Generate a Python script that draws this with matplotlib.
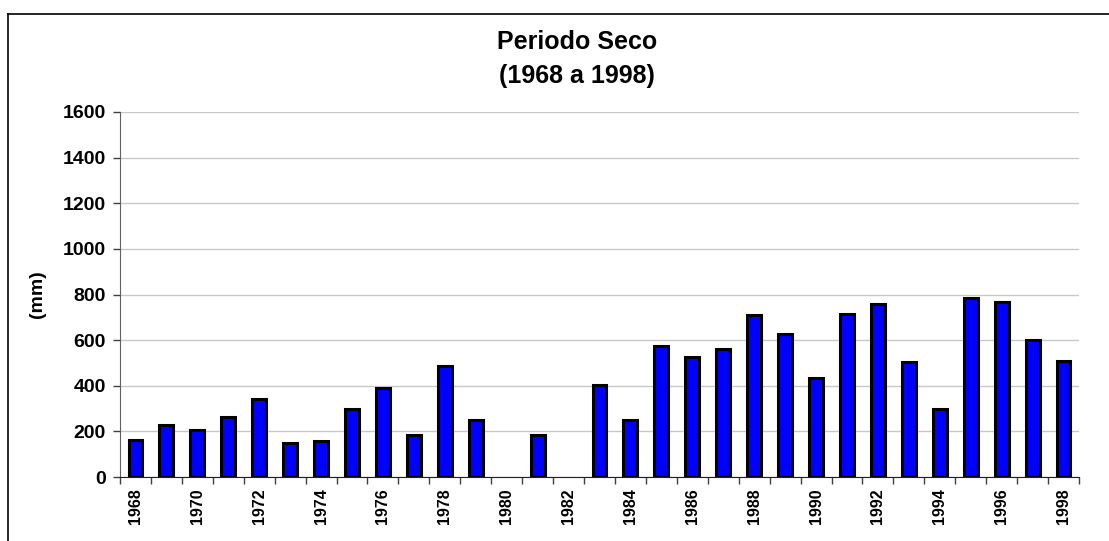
import numpy as np
import matplotlib
matplotlib.use("Agg")
import matplotlib.pyplot as plt
from matplotlib.lines import Line2D

plt.rcParams['font.family'] = ['Liberation Sans', 'DejaVu Sans']
plt.rcParams['font.weight'] = 'bold'

years = list(range(1968, 1999))
values = [164, 227, 205, 263, 342, 149, 156, 300, 389, 186, 488, 248, 0, 186, 0, 403,
          248, 574, 525, 561, 710, 625, 433, 716, 758, 504, 300, 786, 766, 602, 510]
yticks = [0, 200, 400, 600, 800, 1000, 1200, 1400, 1600]

fig = plt.figure(figsize=(11.09, 5.41), dpi=100)
ax = fig.add_axes([120 / 1109, 1 - 477 / 541, (1079 - 120) / 1109, (477 - 112) / 541])

x = np.arange(len(years))
vals = np.array(values, dtype=float)
vals[vals == 0] = np.nan  # years without data: no bar drawn
ax.bar(x, vals, width=0.45, color='#0000ff', edgecolor='black', linewidth=2.2, zorder=3)

ax.set_xlim(-0.5, len(years) - 0.5)
ax.set_ylim(0, 1600)
ax.set_yticks(yticks)
ax.set_yticklabels([str(v) for v in yticks], fontsize=14, fontweight='bold')
ax.yaxis.grid(True, color='#c8c8c8', linewidth=1, zorder=0)

# labels every other year, tick marks at category boundaries
ax.set_xticks(x[::2])
ax.set_xticklabels([str(y) for y in years[::2]], rotation=90, fontsize=11.5, fontweight='bold')
ax.tick_params(axis='x', which='major', length=0, pad=8)
ax.set_xticks(np.arange(len(years) + 1) - 0.5, minor=True)
ax.tick_params(axis='x', which='minor', length=5, width=1, color='#404040', direction='out')
ax.tick_params(axis='y', length=5, width=1, color='#404040', direction='out', pad=5)

for s in ['top', 'right']:
    ax.spines[s].set_visible(False)
ax.spines['left'].set_color('#606060')
ax.spines['bottom'].set_color('#202020')

ax.set_ylabel('(mm)', fontsize=14, fontweight='bold')
ax.yaxis.set_label_coords(-0.077, 0.5)

fig.text(577 / 1109, 1 - 42 / 541, 'Periodo Seco', ha='center', va='center', fontsize=18, fontweight='bold')
fig.text(577 / 1109, 1 - 76 / 541, '(1968 a 1998)', ha='center', va='center', fontsize=18, fontweight='bold')

# outer chart frame (cut off at right and bottom)
fig.add_artist(Line2D([8 / 1109, 1], [1 - 14 / 541, 1 - 14 / 541], color='black', linewidth=1.2, transform=fig.transFigure))
fig.add_artist(Line2D([8 / 1109, 8 / 1109], [0, 1 - 14 / 541], color='black', linewidth=1.2, transform=fig.transFigure))

fig.savefig('out.png', dpi=100)
